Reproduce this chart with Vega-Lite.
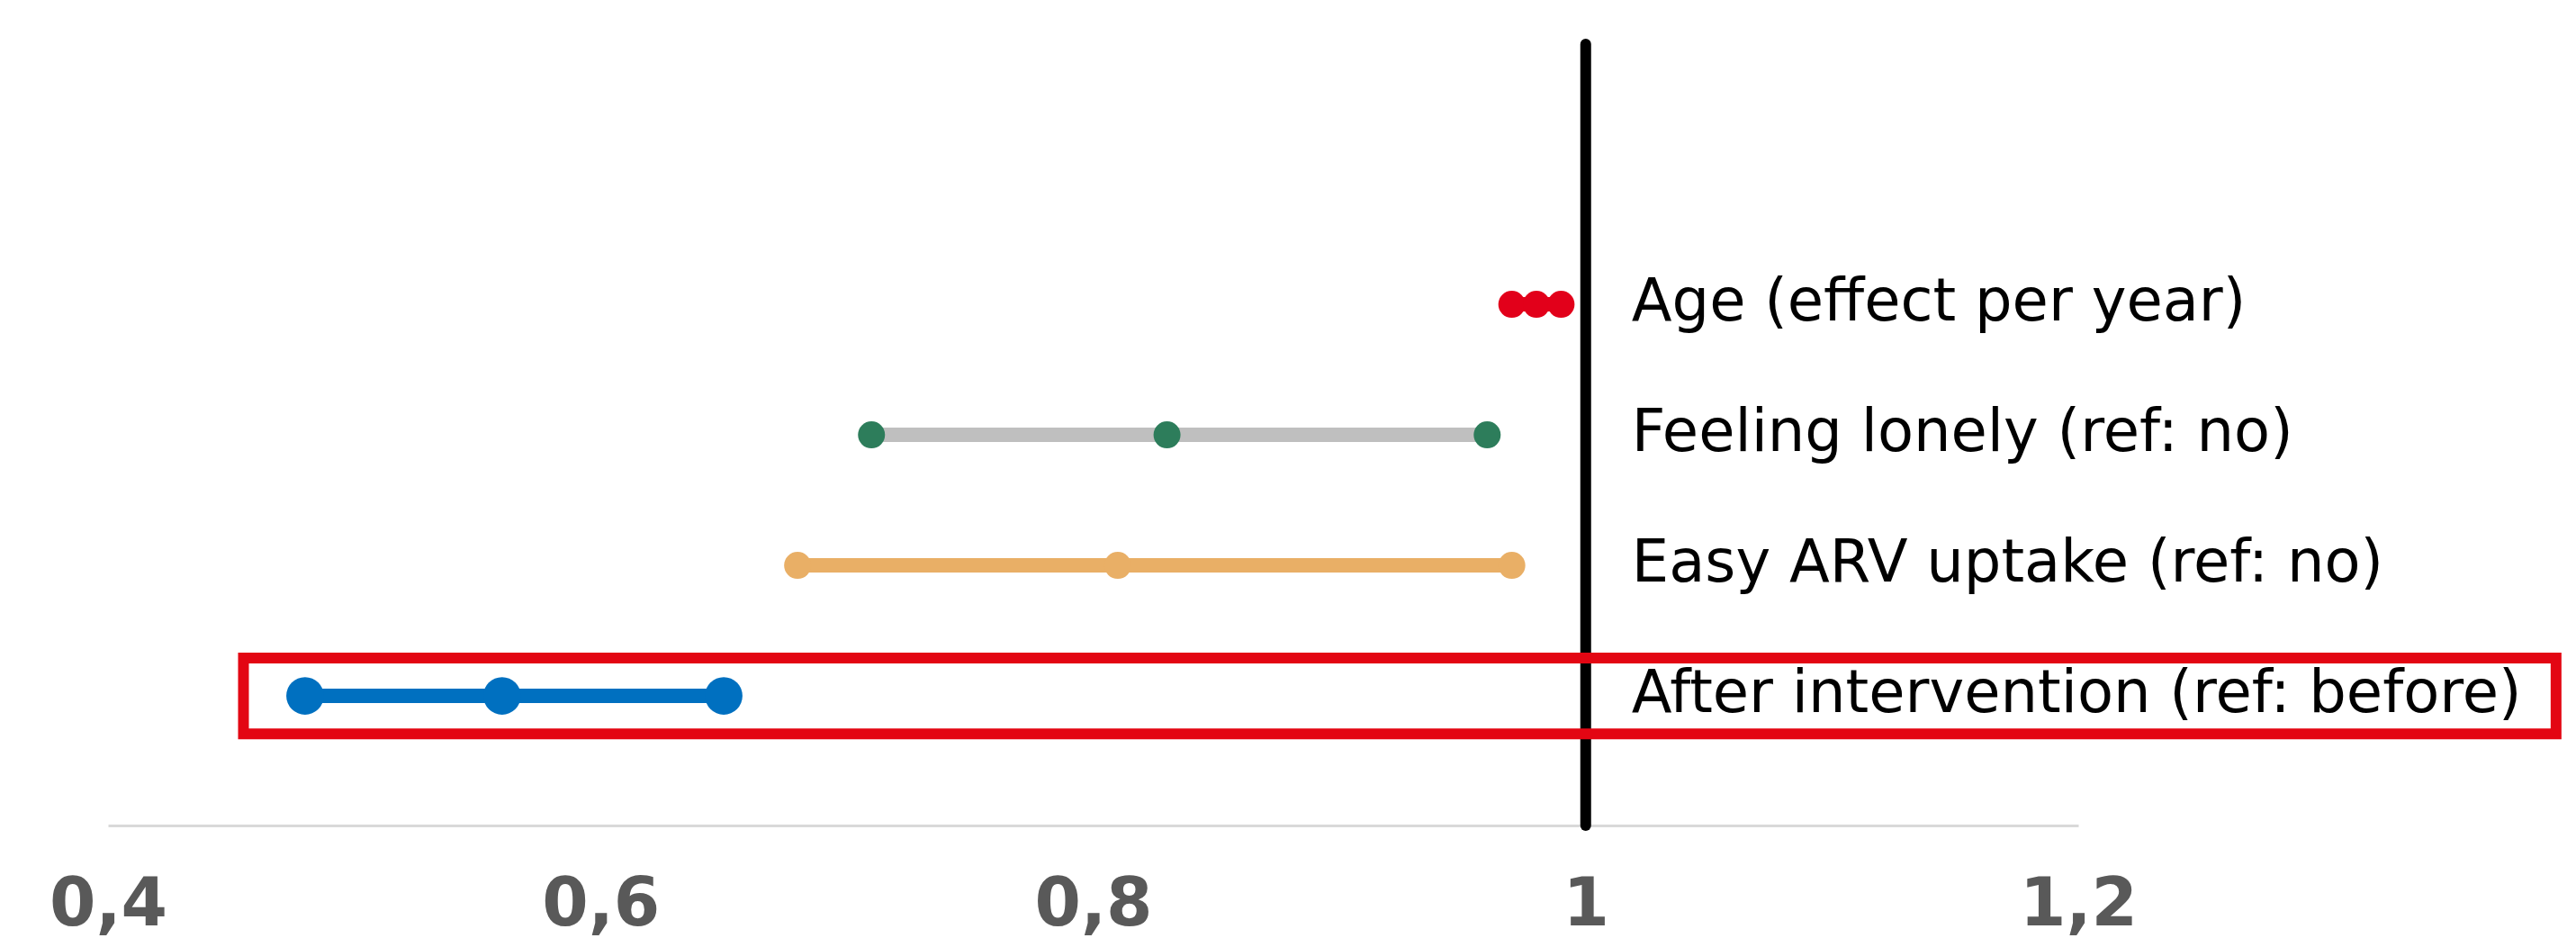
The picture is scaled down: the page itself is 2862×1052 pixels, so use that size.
{
  "$schema": "https://vega.github.io/schema/vega-lite/v6.json",
  "width": 2189,
  "height": 868,
  "autosize": {"type": "none"},
  "padding": {"left": 120, "top": 49, "right": 553, "bottom": 135},
  "background": "white",
  "config": {"view": {"stroke": null}},
  "datasets": {
    "effects": [
      {"label": "Age (effect per year)", "lo": 0.970, "est": 0.980, "hi": 0.990},
      {"label": "Feeling lonely (ref: no)", "lo": 0.710, "est": 0.830, "hi": 0.960},
      {"label": "Easy ARV uptake (ref: no)", "lo": 0.680, "est": 0.810, "hi": 0.970},
      {"label": "After intervention (ref: before)", "lo": 0.480, "est": 0.560, "hi": 0.650}
    ],
    "highlight": [
      {"label": "After intervention (ref: before)", "from": 0.455, "to": 1.394}
    ],
    "reference": [
      {"ref": 1}
    ]
  },
  "encoding": {
    "y": {
      "field": "label",
      "type": "nominal",
      "scale": {
        "type": "band",
        "domain": ["Age (effect per year)", "Feeling lonely (ref: no)", "Easy ARV uptake (ref: no)", "After intervention (ref: before)"],
        "paddingInner": 0,
        "paddingOuter": 0.993,
        "align": 0.752
      },
      "axis": null
    }
  },
  "layer": [
    {
      "data": {"name": "effects"},
      "mark": {"type": "rule", "strokeWidth": 16},
      "encoding": {
        "x": {
          "field": "lo",
          "type": "quantitative",
          "scale": {"domain": [0.4, 1.2], "nice": false, "zero": false},
          "axis": {
            "values": [0.4, 0.6, 0.8, 1, 1.2],
            "format": "~g",
            "labelExpr": "replace(datum.label, '.', ',')",
            "title": null,
            "grid": false,
            "ticks": false,
            "tickSize": 0,
            "domainColor": "#D9D9D9",
            "domainWidth": 3,
            "labelFont": "DejaVu Sans",
            "labelFontWeight": "bold",
            "labelFontSize": 74,
            "labelColor": "#595959",
            "labelPadding": 52,
            "labelFlush": false,
            "labelOverlap": false
          }
        },
        "x2": {"field": "hi"},
        "stroke": {
          "field": "label",
          "type": "nominal",
          "scale": {
            "domain": ["Age (effect per year)", "Feeling lonely (ref: no)", "Easy ARV uptake (ref: no)", "After intervention (ref: before)"],
            "range": ["#E2001A", "#BFBFBF", "#E9AF66", "#0070C0"]
          },
          "legend": null
        }
      }
    },
    {
      "data": {"name": "effects"},
      "transform": [{"fold": ["lo", "est", "hi"], "as": ["stat", "value"]}],
      "mark": {"type": "circle", "opacity": 1},
      "encoding": {
        "x": {"field": "value", "type": "quantitative"},
        "fill": {
          "field": "label",
          "type": "nominal",
          "scale": {
            "domain": ["Age (effect per year)", "Feeling lonely (ref: no)", "Easy ARV uptake (ref: no)", "After intervention (ref: before)"],
            "range": ["#E2001A", "#2D7D5B", "#E9AF66", "#0070C0"]
          },
          "legend": null
        },
        "size": {
          "condition": {"test": "datum.label === 'After intervention (ref: before)'", "value": 1735},
          "value": 900
        }
      }
    },
    {
      "data": {"name": "reference"},
      "mark": {"type": "rule", "color": "black", "strokeWidth": 12, "strokeCap": "round"},
      "encoding": {"x": {"field": "ref", "type": "quantitative"}, "y": null}
    },
    {
      "data": {"name": "effects"},
      "mark": {"type": "text", "align": "left", "baseline": "middle", "dx": 51, "dy": -2, "font": "DejaVu Sans", "fontSize": 65.5, "color": "black"},
      "encoding": {
        "x": {"datum": 1},
        "text": {"field": "label"}
      }
    },
    {
      "data": {"name": "highlight"},
      "mark": {"type": "rect", "filled": false, "fill": null, "stroke": "#E30613", "strokeWidth": 12, "height": {"band": 0.58}},
      "encoding": {
        "x": {"field": "from", "type": "quantitative"},
        "x2": {"field": "to"}
      }
    }
  ]
}
